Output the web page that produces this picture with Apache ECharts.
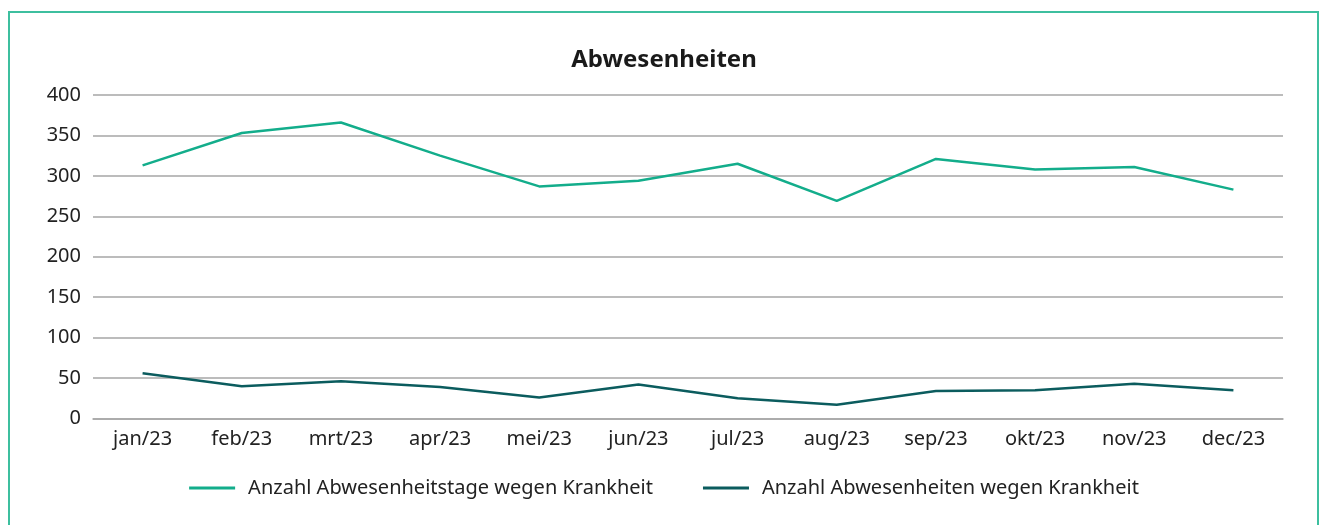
<!DOCTYPE html>
<html>
<head>
<meta charset="utf-8">
<script src="https://cdn.jsdelivr.net/npm/echarts@6/dist/echarts.min.js"></script>
<style>
  body { margin: 0; background: #fff; }
  #frame {
    position: absolute; left: 8px; top: 11px; width: 1311px; height: 530px;
    border: 2px solid #3dbf9f; box-sizing: border-box;
  }
  #chart { position: absolute; left: 0; top: 0; width: 1328px; height: 525px; }
</style>
</head>
<body>
<div id="frame"></div>
<div id="chart"></div>
<script>
const months = ['jan/23', 'feb/23', 'mrt/23', 'apr/23', 'mei/23', 'jun/23',
  'jul/23', 'aug/23', 'sep/23', 'okt/23', 'nov/23', 'dec/23']
const absenceDays = [313, 353, 366, 325, 287, 294, 315, 269, 321, 308, 311, 283]
const absenceCount = [56, 40, 46, 39, 26, 42, 25, 17, 34, 35, 43, 35]
const yTicks = [0, 50, 100, 150, 200, 250, 300, 350, 400]

const fontFamily = '"Noto Sans", sans-serif'
const chart = echarts.init(document.getElementById('chart'))

chart.setOption({
  animation: false,
  title: {
    text: 'Abwesenheiten',
    left: 'center',
    top: 43,
    textStyle: { fontFamily, fontSize: 24, fontWeight: 'bold', color: '#1a1a1a' },
  },
  legend: {
    bottom: 22,
    left: 'center',
    itemWidth: 46,
    itemHeight: 3,
    itemGap: 50,
    icon: 'rect',
    textStyle: { fontFamily, fontSize: 20, color: '#222', padding: [0, 0, 0, 8] },
    data: ['Anzahl Abwesenheitstage wegen Krankheit', 'Anzahl Abwesenheiten wegen Krankheit'],
  },
  grid: { left: 93, right: 45, top: 95, bottom: 106.5 },
  xAxis: {
    type: 'category',
    data: months,
    boundaryGap: true,
    axisLine: { lineStyle: { color: '#a6a6a6', width: 1.5 } },
    axisTick: { show: false },
    axisLabel: { fontFamily, fontSize: 20, color: '#222', margin: 11 },
  },
  yAxis: {
    type: 'value',
    min: yTicks[0],
    max: yTicks[yTicks.length - 1],
    interval: 50,
    axisLine: { show: false },
    axisTick: { show: false },
    axisLabel: { fontFamily, fontSize: 20, color: '#222', margin: 12 },
    splitLine: { lineStyle: { color: '#a6a6a6', width: 1.5 } },
  },
  series: [
    {
      name: 'Anzahl Abwesenheitstage wegen Krankheit',
      type: 'line',
      data: absenceDays,
      symbol: 'none',
      lineStyle: { color: '#13ad8b', width: 2.5 },
      itemStyle: { color: '#13ad8b' },
    },
    {
      name: 'Anzahl Abwesenheiten wegen Krankheit',
      type: 'line',
      data: absenceCount,
      symbol: 'none',
      lineStyle: { color: '#0b5c5e', width: 2.5 },
      itemStyle: { color: '#0b5c5e' },
    },
  ],
})
</script>
</body>
</html>
